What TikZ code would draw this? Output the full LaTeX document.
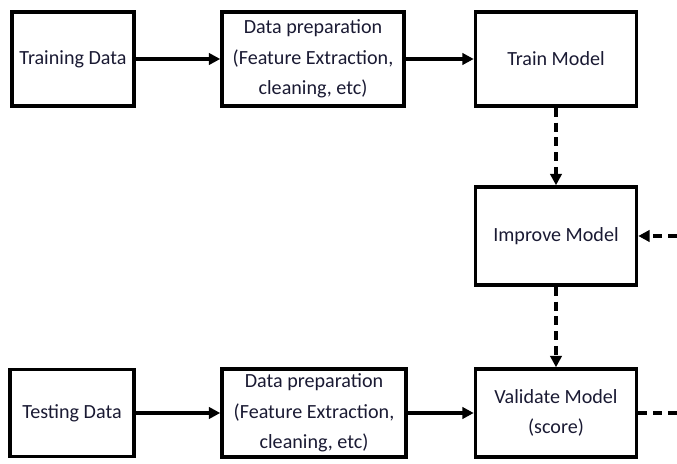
\documentclass[tikz,border=0pt]{standalone}
\usepackage{fontspec}
\setmainfont{Carlito}
\usepackage{xcolor}
\usepackage{tikz}
\usetikzlibrary{arrows.meta, positioning}

\definecolor{boxtext}{HTML}{1A1A33}

\begin{document}
\begin{tikzpicture}[
    x=0.025cm, y=-0.025cm,
    ->, >={Triangle[length=8pt,width=8pt]},
    stepbox/.style={rectangle, draw, line width=2.5pt, align=center,
        font=\fontsize{14.3}{21.5}\selectfont, text=boxtext,
        minimum height=94*0.025cm, inner sep=2pt},
    flow/.style={line width=2.5pt},
    maybe/.style={line width=2.5pt, dash pattern=on 6.5pt off 4pt},
    line width=2.5pt, draw=black
]
\useasboundingbox (0,0) rectangle (677,464);

\node[stepbox, minimum width=122*0.025cm] (traindata) at (73,59) {Training Data};
\node[stepbox, minimum width=182*0.025cm] (prepA) at (313,59) {Data preparation\\(Feature Extraction,\\cleaning, etc)};
\node[stepbox, minimum width=161*0.025cm] (trainmodel) at (556,59) {Train Model};
\node[stepbox, minimum width=161*0.025cm, minimum height=98*0.025cm] (improve) at (556,236) {Improve Model};

\node[stepbox, minimum width=124*0.025cm, minimum height=87*0.025cm] (testdata) at (72,413) {Testing Data};
\node[stepbox, minimum width=184*0.025cm, minimum height=88*0.025cm] (prepB) at (314,413) {Data preparation\\(Feature Extraction,\\cleaning, etc)};
\node[stepbox, minimum width=161*0.025cm, minimum height=88*0.025cm] (validate) at (556,413) {Validate Model\\(score)};

\coordinate (feedin) at (677,236);
\coordinate (feedout) at (677,413);

\draw[flow] (traindata) -- (prepA);
\draw[flow] (prepA) -- (trainmodel);
\draw[maybe] (trainmodel) -- (improve);
\draw[maybe] (improve) -- (validate);
\draw[maybe] (feedin) -- (improve);

\draw[flow] (testdata) -- (prepB);
\draw[flow] (prepB) -- (validate);
\draw[maybe, -] (validate) -- (feedout);

\end{tikzpicture}
\end{document}
